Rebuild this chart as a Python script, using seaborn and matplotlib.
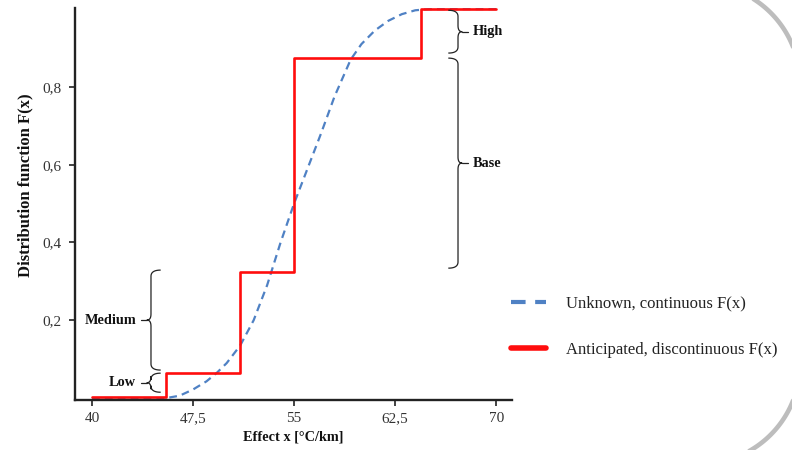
import numpy as np
import pandas as pd
import seaborn as sns
import matplotlib.pyplot as plt

# Data
# continuous (unknown) distribution function
cont_x = [40, 42, 44, 45.5, 46.5, 47, 47.5, 48.5, 49.3, 50, 51, 52, 53, 53.4, 54,
          55, 56, 57, 58, 59.2, 60, 61, 62, 63, 64, 65, 70]
cont_F = [0, 0, 0, 0, 0.006, 0.014, 0.022, 0.043, 0.066, 0.09, 0.135, 0.2, 0.29, 0.334, 0.4,
          0.5, 0.59, 0.68, 0.775, 0.87, 0.91, 0.945, 0.97, 0.987, 0.997, 1.0, 1.0]
# anticipated (discontinuous) step function
step_x = [40, 45.5, 51, 55, 64.4, 70]
step_F = [0.004, 0.065, 0.325, 0.875, 1.0, 1.0]

# scenario braces
brace_labels = ['Low', 'Medium', 'Base', 'High']
brace_lo = [0.015, 0.072, 0.334, 0.887]
brace_hi = [0.064, 0.329, 0.874, 0.997]
brace_side = ['left', 'left', 'right', 'right']

xticks = [40, 47.5, 55, 62.5, 70]
xtick_labels = ['40', '47,5', '55', '62,5', '70']
yticks = [0.2, 0.4, 0.6, 0.8]
ytick_labels = ['0,2', '0,4', '0,6', '0,8']

sns.set_theme(style='white')
plt.rcParams['font.family'] = ['Liberation Serif', 'DejaVu Serif']

fig = plt.figure(figsize=(7.92, 4.5), dpi=100)
ax = fig.add_axes([0.0947, 0.111, 0.5518, 0.871])

df_c = pd.DataFrame({'x': cont_x, 'F': cont_F})
df_s = pd.DataFrame({'x': step_x, 'F': step_F})

sns.lineplot(data=df_c, x='x', y='F', ax=ax, color='#4f81c4', lw=1.6,
             dashes=False, linestyle=(0, (3.5, 2.3)), label='Unknown, continuous F(x)')
sns.lineplot(data=df_s, x='x', y='F', ax=ax, color='#ff0d0d', lw=1.9,
             drawstyle='steps-post', label='Anticipated, discontinuous F(x)')
data_lines = list(ax.get_lines())


def draw_brace(ax, x, y0, y1, side, label):
    s = -1 if side == 'left' else 1
    hw, tip, dash, r = 0.72, 0.3, 0.45, 0.016
    ym = (y0 + y1) / 2
    hook = x - s * hw

    def q(p0, p1, p2, n=14):
        t = np.linspace(0, 1, n)[:, None]
        return (1 - t) ** 2 * np.array(p0) + 2 * (1 - t) * t * np.array(p1) + t ** 2 * np.array(p2)

    pts = np.vstack([
        q((hook, y0), (x, y0), (x, y0 + r)),
        [(x, y0 + r), (x, ym - r)],
        q((x, ym - r), (x, ym), (x + s * tip, ym)),
        q((x + s * tip, ym), (x, ym), (x, ym + r)),
        [(x, ym + r), (x, y1 - r)],
        q((x, y1 - r), (x, y1), (hook, y1)),
    ])
    ax.plot(pts[:, 0], pts[:, 1], color='#222222', lw=0.9, solid_capstyle='butt')
    ax.plot([x + s * tip, x + s * (tip + dash)], [ym, ym], color='#222222', lw=0.9)
    ax.text(x + s * (tip + dash + 0.35), ym, label, ha='right' if s < 0 else 'left',
            va='center', fontsize=10.3, fontweight='bold', color='#111111')


for lab, lo, hi, side in zip(brace_labels, brace_lo, brace_hi, brace_side):
    bx = 44.38 if side == 'left' else 67.17
    draw_brace(ax, bx, lo, hi, side, lab)

ax.set_xlim(38.74, 71.18)
ax.set_ylim(-0.0051, 1.0026)
ax.set_xticks(xticks)
ax.set_xticklabels(xtick_labels)
ax.set_yticks(yticks)
ax.set_yticklabels(ytick_labels)
ax.tick_params(axis='both', which='both', direction='out', length=4.5, width=1.2,
               color='#222222', labelsize=11, labelcolor='#333333', left=True, bottom=True)
ax.tick_params(axis='x', pad=4)
ax.tick_params(axis='y', pad=5)

for side in ['top', 'right']:
    ax.spines[side].set_visible(False)
for side in ['left', 'bottom']:
    ax.spines[side].set_color('#222222')
    ax.spines[side].set_linewidth(1.7)

ax.set_xlabel('Effect x [°C/km]', fontsize=10.3, fontweight='bold', color='#111111')
ax.set_ylabel('Distribution function F(x)', fontsize=12, fontweight='bold', color='#111111')
ax.xaxis.set_label_coords(0.499, -0.077)
ax.yaxis.set_label_coords(-0.096, 0.548)

ax.get_legend().remove()
leg = fig.legend(handles=data_lines, labels=[l.get_label() for l in data_lines],
                 loc='center left', bbox_to_anchor=(0.645, 0.274), frameon=False,
                 fontsize=12, handlelength=2.1, handletextpad=1.2, labelspacing=1.8,
                 borderpad=0, borderaxespad=0)
for t in leg.get_texts():
    t.set_color('#222222')
for h, w in zip(leg.legend_handles, [3.0, 4.0]):
    h.set_linewidth(w)

# rounded grey slide frame, drawn in pixel units on an overlay axes
ov = fig.add_axes([0, 0, 1, 1], zorder=5)
ov.set_xlim(0, 792)
ov.set_ylim(450, 0)
ov.axis('off')
ov.patch.set_alpha(0)
rad, right, top, bottom = 100, 800, -16.5, 464
th1 = np.linspace(-np.pi / 2, 0, 60)
th2 = np.linspace(0, np.pi / 2, 60)
fx = np.concatenate([[0], right - rad + rad * np.cos(th1), right - rad + rad * np.cos(th2), [0]])
fy = np.concatenate([[top], top + rad + rad * np.sin(th1), bottom - rad + rad * np.sin(th2), [bottom]])
ov.plot(fx, fy, color='#bdbdbd', lw=3.3, clip_on=False)

fig.savefig('out.png', dpi=100)
